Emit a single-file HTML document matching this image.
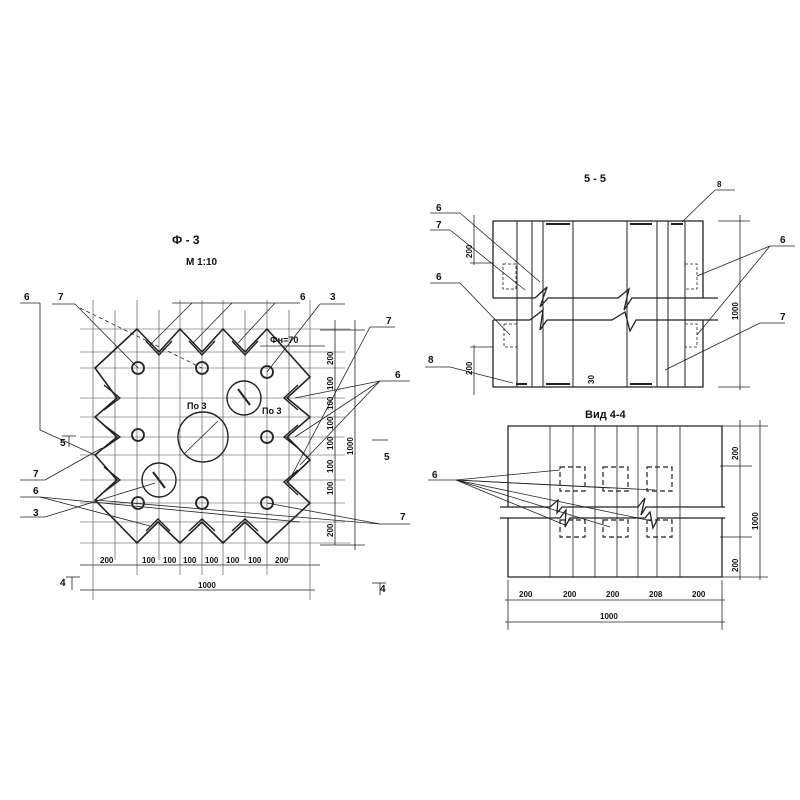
<!DOCTYPE html>
<html><head><meta charset="utf-8"><style>
html,body{margin:0;padding:0;background:#fff}
svg{display:block}
text{font-family:"Liberation Sans",sans-serif;font-weight:bold;fill:#111}
</style></head><body>
<svg width="800" height="800" viewBox="0 0 800 800" xmlns="http://www.w3.org/2000/svg">
<g stroke="#222" fill="none" stroke-width="0.8">
<!-- grid left -->
<g stroke="#444" stroke-width="0.6">
<line x1="93" y1="300" x2="93" y2="600"/><line x1="115" y1="310" x2="115" y2="560"/>
<line x1="137" y1="300" x2="137" y2="575"/><line x1="159" y1="310" x2="159" y2="560"/>
<line x1="180" y1="300" x2="180" y2="575"/><line x1="202" y1="300" x2="202" y2="575"/>
<line x1="223" y1="300" x2="223" y2="575"/><line x1="245" y1="310" x2="245" y2="560"/>
<line x1="267" y1="300" x2="267" y2="575"/><line x1="289" y1="310" x2="289" y2="560"/>
<line x1="310" y1="300" x2="310" y2="600"/>
<line x1="80" y1="329" x2="350" y2="329"/><line x1="80" y1="352" x2="345" y2="352"/>
<line x1="80" y1="368" x2="345" y2="368"/><line x1="80" y1="398" x2="345" y2="398"/>
<line x1="80" y1="417" x2="345" y2="417"/><line x1="80" y1="437" x2="345" y2="437"/>
<line x1="80" y1="455" x2="345" y2="455"/><line x1="80" y1="480" x2="345" y2="480"/>
<line x1="80" y1="503" x2="345" y2="503"/><line x1="80" y1="522" x2="345" y2="522"/>
<line x1="80" y1="543" x2="350" y2="543"/>
</g>
<!-- plate outline -->
<polygon stroke-width="1.6" points="137,329 159,352 180,329 202,352 223,329 245,352 267,329 310,377 287,398 310,417 287,437 310,460 287,482 310,503 267,543 245,522 223,543 202,522 180,543 158,522 137,543 95,500 117,480 95,455 117,437 95,417 117,398 95,368"/>
<!-- angle pieces -->
<g stroke-width="1.4">
<polyline points="146,341 159,355 172,341"/><polyline points="189,341 202,355 215,341"/><polyline points="232,341 245,355 258,341"/>
<polyline points="146,531 158,519 170,531"/><polyline points="189,531 202,519 215,531"/><polyline points="232,531 245,519 258,531"/>
<polyline points="104,385 120,398 104,410"/><polyline points="104,425 120,437 104,448"/><polyline points="104,467 120,480 104,492"/>
<polyline points="298,385 284,398 298,410"/><polyline points="298,425 284,437 298,448"/><polyline points="298,470 284,482 298,495"/>
</g>
<!-- holes -->
<g stroke-width="1.8">
<circle cx="138" cy="368" r="6"/><circle cx="202" cy="368" r="6"/><circle cx="267" cy="372" r="6"/>
<circle cx="138" cy="435" r="6"/><circle cx="267" cy="437" r="6"/>
<circle cx="138" cy="503" r="6"/><circle cx="202" cy="503" r="6"/><circle cx="267" cy="503" r="6"/>
</g>
<circle cx="203" cy="437" r="25" stroke-width="1.4"/>
<circle cx="244" cy="398" r="17" stroke-width="1.4"/><line x1="238" y1="389" x2="250" y2="405" stroke-width="2"/>
<circle cx="159" cy="480" r="17" stroke-width="1.4"/><line x1="153" y1="472" x2="165" y2="488" stroke-width="2"/>
<line x1="185" y1="453" x2="218" y2="421"/>
<!-- leaders left -->
<line x1="20" y1="303" x2="40" y2="303"/><polyline points="40,303 40,430 95,455"/>
<line x1="52" y1="304" x2="75" y2="304"/><line x1="75" y1="304" x2="138" y2="368"/>
<line x1="80" y1="308" x2="202" y2="368" stroke-dasharray="4,3"/>
<line x1="172" y1="303" x2="300" y2="303"/><line x1="192" y1="303" x2="150" y2="345"/><line x1="232" y1="303" x2="193" y2="343"/><line x1="275" y1="303" x2="238" y2="343"/>
<line x1="320" y1="304" x2="345" y2="304"/><line x1="320" y1="304" x2="267" y2="372"/>
<line x1="370" y1="327" x2="395" y2="327"/><line x1="370" y1="327" x2="292" y2="475"/>
<line x1="20" y1="480" x2="45" y2="480"/><line x1="45" y1="480" x2="102" y2="448"/>
<line x1="20" y1="497" x2="40" y2="497"/><line x1="40" y1="497" x2="300" y2="522"/><line x1="40" y1="497" x2="150" y2="526"/>
<line x1="20" y1="517" x2="45" y2="517"/><line x1="45" y1="517" x2="155" y2="483"/>
<line x1="380" y1="524" x2="410" y2="524"/><line x1="380" y1="524" x2="267" y2="503"/><line x1="380" y1="524" x2="95" y2="500"/>
<line x1="380" y1="381" x2="410" y2="381"/><line x1="380" y1="381" x2="295" y2="398"/><line x1="380" y1="381" x2="295" y2="437"/><line x1="380" y1="381" x2="300" y2="465"/>
<line x1="260" y1="346" x2="325" y2="346"/>
<!-- dims left -->
<line x1="80" y1="565" x2="320" y2="565"/><line x1="80" y1="590" x2="315" y2="590"/>
<line x1="335" y1="320" x2="335" y2="545"/><line x1="355" y1="320" x2="355" y2="550"/>
<line x1="320" y1="330" x2="365" y2="330"/><line x1="320" y1="545" x2="365" y2="545"/>
<line x1="372" y1="440" x2="388" y2="440"/><line x1="372" y1="583" x2="386" y2="583"/><line x1="380" y1="583" x2="380" y2="595"/>
<line x1="66" y1="577" x2="80" y2="577"/><line x1="72" y1="577" x2="72" y2="590"/>
<line x1="62" y1="436" x2="76" y2="436"/><line x1="69" y1="436" x2="69" y2="447"/>
<!-- section 5-5 -->
<g stroke-width="1.3">
<polyline points="493,298 493,221 703,221 703,298"/>
<polyline points="493,320 493,387 703,387 703,320"/>
<line x1="493" y1="298" x2="535" y2="298"/><polyline points="535,298 547,287 540,307 548,298 618,298 629,289 624,310 632,298 718,298"/>
<line x1="493" y1="320" x2="530" y2="320"/><polyline points="530,320 543,310 540,330 547,320 612,320 625,312 630,331 636,320 718,320"/>
</g>
<g stroke-width="1"><line x1="517" y1="221" x2="517" y2="387"/><line x1="532" y1="221" x2="532" y2="387"/><line x1="543" y1="221" x2="543" y2="387"/><line x1="573" y1="221" x2="573" y2="387"/><line x1="627" y1="221" x2="627" y2="387"/><line x1="657" y1="221" x2="657" y2="387"/><line x1="668" y1="221" x2="668" y2="387"/><line x1="685" y1="221" x2="685" y2="387"/></g>
<g stroke-dasharray="3,2"><rect x="503" y="264" width="13" height="25"/><rect x="685" y="264" width="12" height="25"/><rect x="504" y="324" width="13" height="23"/><rect x="685" y="324" width="12" height="23"/></g>
<g stroke-width="2"><line x1="546" y1="224" x2="570" y2="224"/><line x1="630" y1="224" x2="652" y2="224"/><line x1="671" y1="224" x2="683" y2="224"/><line x1="546" y1="384" x2="570" y2="384"/><line x1="630" y1="384" x2="652" y2="384"/><line x1="516" y1="384" x2="527" y2="384"/></g>
<line x1="430" y1="213" x2="460" y2="213"/><line x1="460" y1="213" x2="540" y2="282"/>
<line x1="430" y1="230" x2="450" y2="230"/><line x1="450" y1="230" x2="525" y2="290"/>
<line x1="430" y1="283" x2="460" y2="283"/><line x1="460" y1="283" x2="510" y2="335"/>
<line x1="715" y1="190" x2="735" y2="190"/><line x1="715" y1="190" x2="682" y2="222"/>
<line x1="770" y1="246" x2="795" y2="246"/><line x1="770" y1="246" x2="697" y2="276"/><line x1="770" y1="246" x2="697" y2="335"/>
<line x1="760" y1="323" x2="785" y2="323"/><line x1="760" y1="323" x2="665" y2="370"/>
<line x1="425" y1="367" x2="450" y2="367"/><line x1="450" y1="367" x2="513" y2="383"/>
<line x1="474" y1="215" x2="474" y2="265"/><line x1="474" y1="345" x2="474" y2="395"/>
<line x1="470" y1="263" x2="493" y2="263"/><line x1="470" y1="347" x2="493" y2="347"/>
<line x1="740" y1="215" x2="740" y2="390"/><line x1="718" y1="221" x2="750" y2="221"/><line x1="718" y1="387" x2="750" y2="387"/>
<!-- view 4-4 -->
<g stroke-width="1.3">
<polyline points="508,507 508,426 722,426 722,507"/>
<polyline points="508,518 508,577 722,577 722,518"/>
<polyline points="500,507 550,507 558,500 557,513 562,507 638,507 645,498 641,515 646,507 725,507"/>
<polyline points="500,518 560,518 566,510 565,527 570,518 645,518 650,512 653,528 658,518 725,518"/>
</g>
<g><line x1="550" y1="426" x2="550" y2="577"/><line x1="573" y1="426" x2="573" y2="577"/><line x1="595" y1="426" x2="595" y2="577"/><line x1="617" y1="426" x2="617" y2="577"/><line x1="638" y1="426" x2="638" y2="577"/><line x1="657" y1="426" x2="657" y2="577"/><line x1="680" y1="426" x2="680" y2="577"/></g>
<g stroke-dasharray="5,3" stroke-width="1.2"><rect x="560" y="467" width="25" height="24"/><rect x="603" y="467" width="25" height="24"/><rect x="647" y="467" width="25" height="24"/><rect x="560" y="520" width="25" height="17"/><rect x="603" y="520" width="25" height="17"/><rect x="647" y="520" width="25" height="17"/></g>
<line x1="428" y1="480" x2="456" y2="480"/>
<line x1="456" y1="480" x2="560" y2="470"/><line x1="456" y1="480" x2="610" y2="488"/><line x1="456" y1="480" x2="655" y2="490"/><line x1="456" y1="480" x2="565" y2="525"/><line x1="456" y1="480" x2="610" y2="527"/><line x1="456" y1="480" x2="652" y2="521"/>
<line x1="720" y1="466" x2="752" y2="466"/><line x1="720" y1="537" x2="752" y2="537"/>
<line x1="740" y1="420" x2="740" y2="580"/><line x1="760" y1="420" x2="760" y2="580"/>
<line x1="722" y1="426" x2="768" y2="426"/><line x1="722" y1="577" x2="768" y2="577"/>
<line x1="505" y1="600" x2="725" y2="600"/><line x1="505" y1="622" x2="725" y2="622"/>
<line x1="508" y1="580" x2="508" y2="630"/><line x1="722" y1="580" x2="722" y2="630"/>
</g>
<!-- text -->
<g font-size="10">
<text x="172" y="244" font-size="12">Ф - 3</text><text x="186" y="265" font-size="10">М 1:10</text>
<text x="24" y="300">6</text><text x="58" y="300">7</text><text x="300" y="300">6</text><text x="330" y="300">3</text>
<text x="386" y="324">7</text><text x="395" y="378">6</text><text x="270" y="343" font-size="9">Фн=70</text>
<text x="187" y="409" font-size="9">По 3</text><text x="262" y="414" font-size="9">По 3</text>
<text x="33" y="477">7</text><text x="33" y="494">6</text><text x="33" y="516">3</text><text x="400" y="520">7</text>
<text x="60" y="446">5</text><text x="384" y="460">5</text><text x="60" y="586">4</text><text x="380" y="592">4</text>
<g font-size="8"><text x="100" y="563">200</text><text x="142" y="563">100</text><text x="163" y="563">100</text><text x="183" y="563">100</text><text x="205" y="563">100</text><text x="226" y="563">100</text><text x="248" y="563">100</text><text x="275" y="563">200</text><text x="198" y="588">1000</text></g>
<g font-size="8"><text transform="translate(333,365) rotate(-90)">200</text><text transform="translate(333,390) rotate(-90)">100</text><text transform="translate(333,410) rotate(-90)">100</text><text transform="translate(333,430) rotate(-90)">100</text><text transform="translate(333,450) rotate(-90)">100</text><text transform="translate(333,473) rotate(-90)">100</text><text transform="translate(333,495) rotate(-90)">100</text><text transform="translate(333,537) rotate(-90)">200</text><text transform="translate(353,455) rotate(-90)">1000</text></g>
<text x="584" y="182" font-size="11">5 - 5</text><text x="717" y="187" font-size="8">8</text>
<text x="436" y="211">6</text><text x="436" y="228">7</text><text x="436" y="280">6</text><text x="428" y="363">8</text><text x="780" y="243">6</text><text x="780" y="320">7</text>
<g font-size="8"><text transform="translate(472,258) rotate(-90)">200</text><text transform="translate(472,375) rotate(-90)">200</text><text transform="translate(738,320) rotate(-90)">1000</text><text transform="translate(594,384) rotate(-90)">30</text></g>
<text x="585" y="418" font-size="11">Вид  4-4</text><text x="432" y="478">6</text>
<g font-size="8"><text transform="translate(738,460) rotate(-90)">200</text><text transform="translate(738,572) rotate(-90)">200</text><text transform="translate(758,530) rotate(-90)">1000</text>
<text x="519" y="597">200</text><text x="563" y="597">200</text><text x="606" y="597">200</text><text x="649" y="597">208</text><text x="692" y="597">200</text><text x="600" y="619">1000</text></g>
</g>
</svg>
</body></html>
